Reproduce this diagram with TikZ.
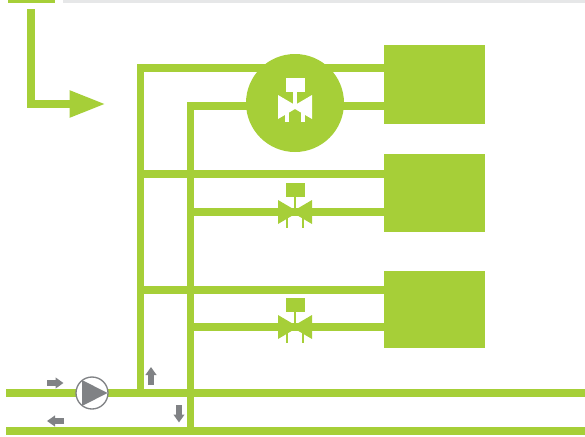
\documentclass[tikz,border=0pt]{standalone}
\usetikzlibrary{arrows.meta}
\definecolor{pipegreen}{HTML}{A6CF38}
\definecolor{pumpgray}{HTML}{808285}
\definecolor{bargray}{HTML}{E6E7E8}
\tikzset{
  pics/valve/.style args={#1/#2/#3}{code={
    \fill[#1] (-9,-29) rectangle (10,-15);
    \fill[#1] (-#2,-15) rectangle (#2,0);
    \fill[#1] (-17,-12) -- (0,-2) -- (17,-12) -- (17,12) -- (0,2) -- (-17,12) -- cycle;
    \fill[#1] (-8-#2,0) rectangle (-8+#2,#3);
    \fill[#1] (8-#2,0) rectangle (8+#2,#3);
  }}
}
\begin{document}
\begin{tikzpicture}[x=0.75pt,y=-0.75pt,
  pipe/.style={draw=pipegreen,line width=5.8pt,miter limit=10},
  room/.style={fill=pipegreen,minimum width=75.75pt,inner sep=0pt},
  flow/.style={draw=pumpgray,line width=3.9pt,-{Triangle[length=6pt,width=8pt]}}]
\useasboundingbox (0,0) rectangle (585,436);
\fill[pipegreen] (8,0) rectangle (55,3);
\fill[bargray] (63,0) rectangle (585,3);
% rooms
\node[room,minimum height=59.25pt] (roomA) at (434.5,84.5) {};
\node[room,minimum height=58.5pt] (roomB) at (434.5,193) {};
\node[room,minimum height=57.75pt] (roomC) at (434.5,309.5) {};
% mains
\coordinate (supplyL) at (6,393);
\coordinate (supplyR) at (585,393);
\coordinate (returnL) at (6,431);
\coordinate (returnR) at (585,431);
\coordinate (riserA) at (140.5,393);
\coordinate (riserB) at (190.5,431);
\draw[pipe] (supplyL) -- (supplyR);
\draw[pipe] (returnL) -- (returnR);
% risers and branches
\draw[pipe] (riserA) -- (riserA |- 0,68) -- (roomA.west |- 0,68);
\draw[pipe] (riserB) -- (riserB |- 0,106) -- (roomA.west |- 0,106);
\draw[pipe] (riserA |- 0,174) -- (roomB.west |- 0,174);
\draw[pipe] (riserB |- 0,212) -- (roomB.west |- 0,212);
\draw[pipe] (riserA |- 0,290) -- (roomC.west |- 0,290);
\draw[pipe] (riserB |- 0,327) -- (roomC.west |- 0,327);
% valves
\node[circle,fill=pipegreen,minimum size=73.5pt,inner sep=0pt] (mainvalve) at (295,103) {};
\pic at (295,107) {valve={white/2/15}};
\pic at (295,212) {valve={pipegreen/1/16}};
\pic at (295,327) {valve={pipegreen/1/16}};
% pump
\node[circle,draw=pumpgray,fill=white,line width=1pt,minimum size=24pt,inner sep=0pt] (pump) at (92,393) {};
\fill[pumpgray] (82,380) -- (107.5,393) -- (82,406) -- cycle;
% flow arrows
\coordinate (inA) at (47,383);
\coordinate (inB) at (63.5,383);
\coordinate (outA) at (64,421);
\coordinate (outB) at (47,421);
\coordinate (upA) at (151,385);
\coordinate (upB) at (151,367);
\coordinate (downA) at (179,405);
\coordinate (downB) at (179,422.5);
\draw[flow] (inA) -- (inB);
\draw[flow] (outA) -- (outB);
\draw[flow] (upA) -- (upB);
\draw[flow] (downA) -- (downB);
% legend arrow
\coordinate (legA) at (31,9);
\coordinate (legB) at (31,104);
\coordinate (legC) at (105.5,104);
\draw[draw=pipegreen,line width=5.6pt,-{Triangle[length=27pt,width=19pt]}] (legA) -- (legB) -- (legC);
\end{tikzpicture}
\end{document}
